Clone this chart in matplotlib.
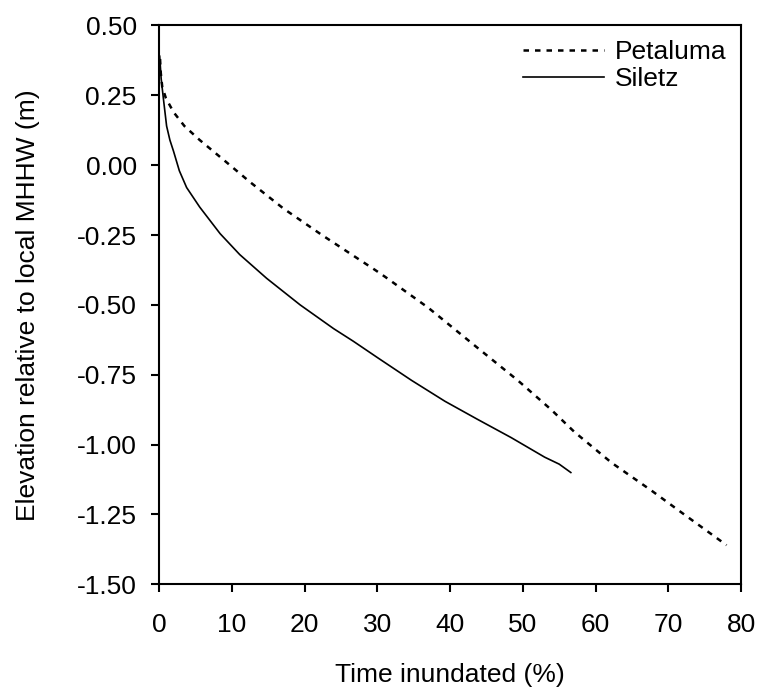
import matplotlib.pyplot as plt

# Petaluma (dotted) - time inundated (%) vs elevation relative to MHHW (m)
petaluma_x = [0.15, 0.25, 0.45, 0.95, 2.0, 3.5, 5.6, 9.3, 12.5, 17.1, 22.4, 29.7, 31.1,
              37.0, 43.6, 49.3, 53.9, 57.1, 62.2, 67.7, 72.7, 78.0]
petaluma_y = [0.38, 0.33, 0.28, 0.24, 0.19, 0.14, 0.09, 0.01, -0.06, -0.155, -0.25, -0.375, -0.40,
              -0.51, -0.65, -0.77, -0.875, -0.955, -1.065, -1.165, -1.26, -1.36]

# Siletz (solid)
siletz_x = [0.1, 0.3, 0.6, 1.05, 1.5, 2.0, 2.8, 3.8, 5.6, 8.4, 11.1, 14.8, 19.4, 24.0, 26.7,
            30.1, 34.7, 39.3, 43.8, 48.4, 53.0, 55.0, 56.6]
siletz_y = [0.39, 0.31, 0.24, 0.14, 0.09, 0.05, -0.02, -0.08, -0.15, -0.245, -0.32, -0.405, -0.50,
            -0.585, -0.63, -0.69, -0.77, -0.845, -0.91, -0.975, -1.045, -1.07, -1.10]

x_ticks = [0, 10, 20, 30, 40, 50, 60, 70, 80]
y_ticks = [0.50, 0.25, 0.00, -0.25, -0.50, -0.75, -1.00, -1.25, -1.50]

plt.rcParams['font.family'] = ['Liberation Sans', 'DejaVu Sans']

fig = plt.figure(figsize=(7.57, 6.89), dpi=100)
ax = fig.add_axes([0.210, 0.152, 0.769, 0.811])

ax.plot(petaluma_x, petaluma_y, color='black', lw=1.8, linestyle=(0, (2.2, 2.4)), label='Petaluma')
ax.plot(siletz_x, siletz_y, color='black', lw=1.2, label='Siletz')

ax.set_xlim(0, 80)
ax.set_ylim(-1.5, 0.5)
ax.set_xticks(x_ticks)
ax.set_yticks(y_ticks)
ax.set_yticklabels([f"{v:.2f}" for v in y_ticks])
ax.tick_params(direction='out', length=6, width=1.5, labelsize=19)
ax.tick_params(axis='x', pad=15)
ax.tick_params(axis='y', pad=10)
for side in ("left", "right", "top", "bottom"):
    ax.spines[side].set_linewidth(1.5)

ax.set_xlabel("Time inundated (%)", fontsize=19)
ax.set_ylabel("Elevation relative to local MHHW (m)", fontsize=19)
ax.xaxis.set_label_coords(0.5, -0.14)
ax.yaxis.set_label_coords(-0.205, 0.5)

ax.legend(loc='upper right', frameon=False, fontsize=19, handlelength=3.1,
          handletextpad=0.4, labelspacing=0.12, borderaxespad=0.15)

fig.savefig("out.png", dpi=100)
